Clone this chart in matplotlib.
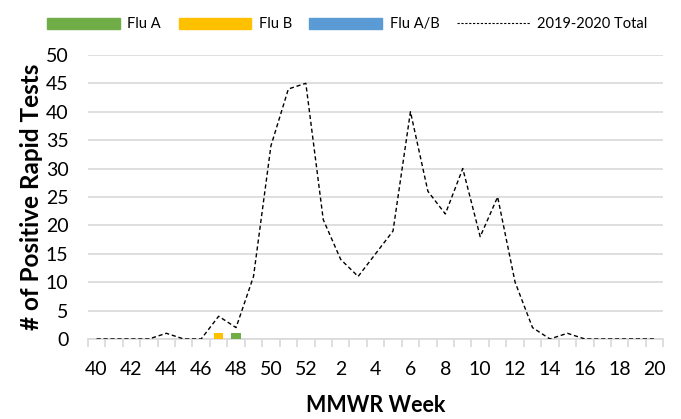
import matplotlib.pyplot as plt
import numpy as np
from matplotlib.lines import Line2D
from matplotlib.patches import Patch

plt.rcParams["font.family"] = ["Lato", "DejaVu Sans"]

weeks = [str(w) for w in range(40, 53)] + [str(w) for w in range(1, 21)]
flu_a = [0, 0, 0, 0, 0, 0, 0, 0, 1, 0, 0, 0, 0, 0, 0, 0, 0, 0, 0, 0, 0, 0, 0, 0, 0, 0, 0, 0, 0, 0, 0, 0, 0]
flu_b = [0, 0, 0, 0, 0, 0, 0, 1, 0, 0, 0, 0, 0, 0, 0, 0, 0, 0, 0, 0, 0, 0, 0, 0, 0, 0, 0, 0, 0, 0, 0, 0, 0]
flu_ab = [0] * 33
total = [0, 0, 0, 0, 1, 0, 0, 4, 2, 11, 34, 44, 45, 21, 14, 11, 15, 19, 40, 26, 22, 30, 18, 25, 10, 2, 0, 1, 0, 0, 0, 0, 0]

GREEN = "#70AD47"
YELLOW = "#FFC000"
BLUE = "#5B9BD5"
GRID = "#D9D9D9"

fig = plt.figure(figsize=(6.81, 4.19), dpi=100)
ax = fig.add_axes([0.129, 0.191, 0.845, 0.678])

x = np.arange(len(weeks))
fa = np.array(flu_a)
fb = np.array(flu_b)
ax.bar(x, fa, width=0.55, color=GREEN, zorder=3)
ax.bar(x, fb, width=0.55, bottom=fa, color=YELLOW, zorder=3)
ax.bar(x, flu_ab, width=0.55, bottom=fa + fb, color=BLUE, zorder=3)
ax.plot(x, total, color="black", linestyle=(0, (3, 2)), linewidth=1, zorder=4)

ax.set_xlim(-0.5, len(weeks) - 0.5)
ax.set_ylim(0, 50)
ax.set_yticks(range(0, 51, 5))
ax.yaxis.grid(True, color=GRID, linewidth=1.2, zorder=0)
ax.set_axisbelow(True)

ax.set_xticks(x[::2])
ax.set_xticklabels(weeks[::2])
ax.set_xticks(np.arange(-0.5, len(weeks), 1), minor=True)
ax.tick_params(axis="x", which="major", length=0, labelsize=14, pad=16)
ax.tick_params(axis="x", which="minor", length=6, color=GRID, width=1.2)
ax.tick_params(axis="y", length=0, labelsize=14, pad=14)

for s in ["top", "right", "left"]:
    ax.spines[s].set_visible(False)
ax.spines["bottom"].set_color(GRID)
ax.spines["bottom"].set_linewidth(1.2)

ax.set_xlabel("MMWR Week", fontsize=15.5, fontweight="bold", labelpad=12)
ax.set_ylabel("# of Positive Rapid Tests", fontsize=17.5, fontweight="bold", labelpad=2)

handles = [
    Patch(color=GREEN, label="Flu A"),
    Patch(color=YELLOW, label="Flu B"),
    Patch(color=BLUE, label="Flu A/B"),
    Line2D([0], [0], color="black", linestyle=(0, (2, 1.5)), linewidth=0.8, label="2019-2020 Total"),
]
fig.legend(handles=handles, loc="upper center", bbox_to_anchor=(0.51, 0.99), ncol=4,
           frameon=False, fontsize=10.5, handlelength=5.0, handleheight=0.75,
           handletextpad=0.5, columnspacing=1.2)

fig.savefig("out.png", dpi=100)
